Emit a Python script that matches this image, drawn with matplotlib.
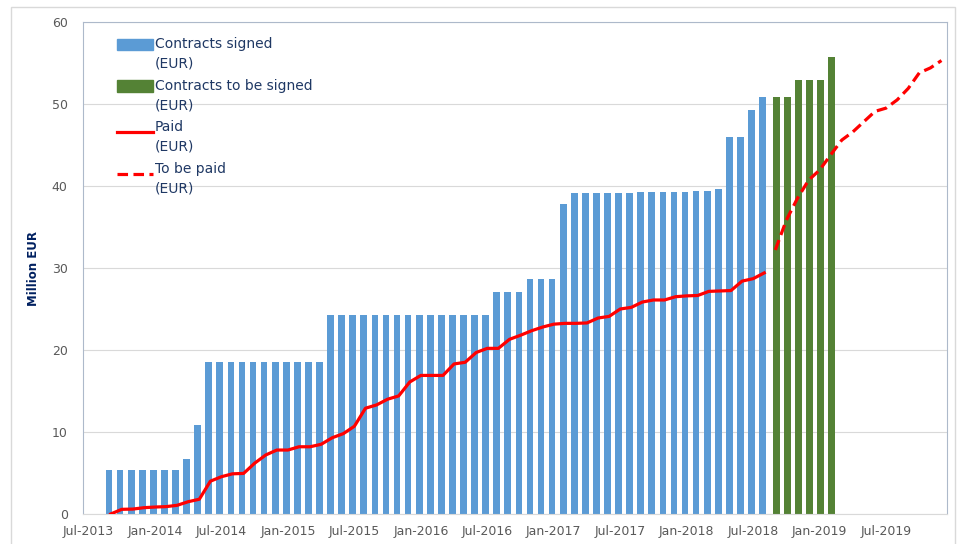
import matplotlib
matplotlib.use("Agg")
import matplotlib.pyplot as plt
import matplotlib.patches as mpatches
from matplotlib.lines import Line2D
from matplotlib.legend_handler import HandlerPatch, HandlerLine2D
import numpy as np
import pandas as pd

# 月次カテゴリ (Jul-2013 .. Dec-2019)
months = pd.date_range("2013-07-01", periods=78, freq="MS")
month_labels = [m.strftime("%b-%Y") for m in months]

# Contracts signed (Sep-2013 .. Aug-2018)
signed_start = 2
contracts_signed = (
    [5.4] * 7 + [6.7, 10.8] + [18.5] * 11 + [24.3] * 15 + [27.1] * 3 + [28.6] * 3
    + [37.8] + [39.1] * 6 + [39.25] * 5 + [39.4] * 2 + [39.6] + [46.0] * 2 + [49.3, 50.8]
)

# Contracts to be signed (Sep-2018 .. Feb-2019)
to_sign_start = 62
contracts_to_sign = [50.8, 50.8, 52.9, 52.9, 52.9, 55.7]

# Paid (Sep-2013 .. Aug-2018)
paid = [
    0.0, 0.57, 0.6, 0.77, 0.85, 0.9, 1.06, 1.5, 1.8, 4.0,
    4.55, 4.9, 4.95, 6.2, 7.2, 7.8, 7.8, 8.2, 8.2, 8.5,
    9.3, 9.8, 10.7, 12.9, 13.3, 14.0, 14.4, 16.1, 16.9, 16.9,
    16.9, 18.3, 18.5, 19.7, 20.2, 20.2, 21.3, 21.8, 22.35, 22.8,
    23.15, 23.25, 23.25, 23.3, 23.9, 24.1, 25.0, 25.2, 25.85, 26.1,
    26.1, 26.5, 26.6, 26.65, 27.15, 27.2, 27.25, 28.4, 28.7, 29.4,
]

# To be paid (Sep-2018 .. Dec-2019)
to_pay_start = 62
to_be_paid = [32.2, 35.85, 38.5, 40.7, 41.95, 43.8, 45.6, 46.6,
              47.85, 49.1, 49.5, 50.5, 51.9, 53.8, 54.4, 55.3]

BLUE = "#5B9BD5"
GREEN = "#548235"
RED = "#FF0000"
NAVY = "#1F3864"
GRAY = "#595959"
LW = 2.3
DASH = (3.3, 1.7)

fig = plt.figure(figsize=(9.58, 5.44), dpi=100)
ax = fig.add_axes([83 / 958, 30 / 544, 864 / 958, 492 / 544])

# 外枠
fig.patches.append(mpatches.Rectangle((11 / 958, -0.01), 944 / 958, 537 / 544 + 0.01,
                                      transform=fig.transFigure, fill=False,
                                      edgecolor="#d9d9d9", linewidth=1))

x_signed = np.arange(signed_start, signed_start + len(contracts_signed))
x_to_sign = np.arange(to_sign_start, to_sign_start + len(contracts_to_sign))
x_paid = np.arange(signed_start, signed_start + len(paid))
x_to_pay = np.arange(to_pay_start, to_pay_start + len(to_be_paid))

ax.bar(x_signed - 0.15, contracts_signed, width=0.6, color=BLUE, zorder=2)
ax.bar(x_to_sign + 0.1, contracts_to_sign, width=0.6, color=GREEN, zorder=2)
ax.plot(x_paid, paid, color=RED, linewidth=LW, zorder=3)
ax.plot(x_to_pay, to_be_paid, color=RED, linewidth=LW, dashes=DASH, zorder=3)

ax.set_xlim(-0.5, len(months) - 0.5)
ax.set_ylim(0, 60)
ax.set_yticks(range(0, 61, 10))
ax.set_xticks(range(0, len(months), 6))
ax.set_xticklabels(month_labels[::6])
ax.tick_params(axis="both", length=0, labelsize=9, labelcolor=GRAY)
ax.tick_params(axis="x", pad=8)
ax.tick_params(axis="y", pad=11)
ax.grid(axis="y", color="#d9d9d9", linewidth=0.8, zorder=0)
ax.set_axisbelow(True)

for side in ["left", "top", "right"]:
    ax.spines[side].set_color("#adb9ca")
ax.spines["bottom"].set_color("#d9d9d9")

ax.set_ylabel("Million EUR", fontsize=8.5, fontweight="bold", color="#002060")
ax.yaxis.set_label_coords(-0.05, 0.5)

# 凡例: マーカーを1行目に揃える
shift = 7.0


def top_patch(legend, orig_handle, xdescent, ydescent, width, height, fontsize):
    return mpatches.Rectangle((-xdescent, -ydescent + shift), width, height)


class TopLine(HandlerLine2D):
    def create_artists(self, legend, orig_handle, xdescent, ydescent, width, height, fontsize, trans):
        return super().create_artists(legend, orig_handle, xdescent, ydescent - shift,
                                      width, height, fontsize, trans)


h_signed = mpatches.Patch(color=BLUE)
h_to_sign = mpatches.Patch(color=GREEN)
h_paid = Line2D([], [], color=RED, linewidth=LW)
h_to_pay = Line2D([], [], color=RED, linewidth=LW, dashes=DASH)
handles = [h_signed, h_to_sign, h_paid, h_to_pay]
labels = ["Contracts signed\n(EUR)", "Contracts to be signed\n(EUR)",
          "Paid\n(EUR)", "To be paid\n(EUR)"]
hmap = {
    h_signed: HandlerPatch(patch_func=top_patch),
    h_to_sign: HandlerPatch(patch_func=top_patch),
    h_paid: TopLine(),
    h_to_pay: TopLine(),
}
leg = ax.legend(handles, labels, handler_map=hmap, loc="upper left",
                bbox_to_anchor=(0.0245, 0.995), frameon=False, fontsize=10,
                handlelength=2.6, handleheight=0.9, handletextpad=0.15,
                labelspacing=0.58, labelcolor=NAVY)
for t in leg.get_texts():
    t.set_linespacing(1.5)

plt.savefig("out.png", dpi=100)
plt.close()
